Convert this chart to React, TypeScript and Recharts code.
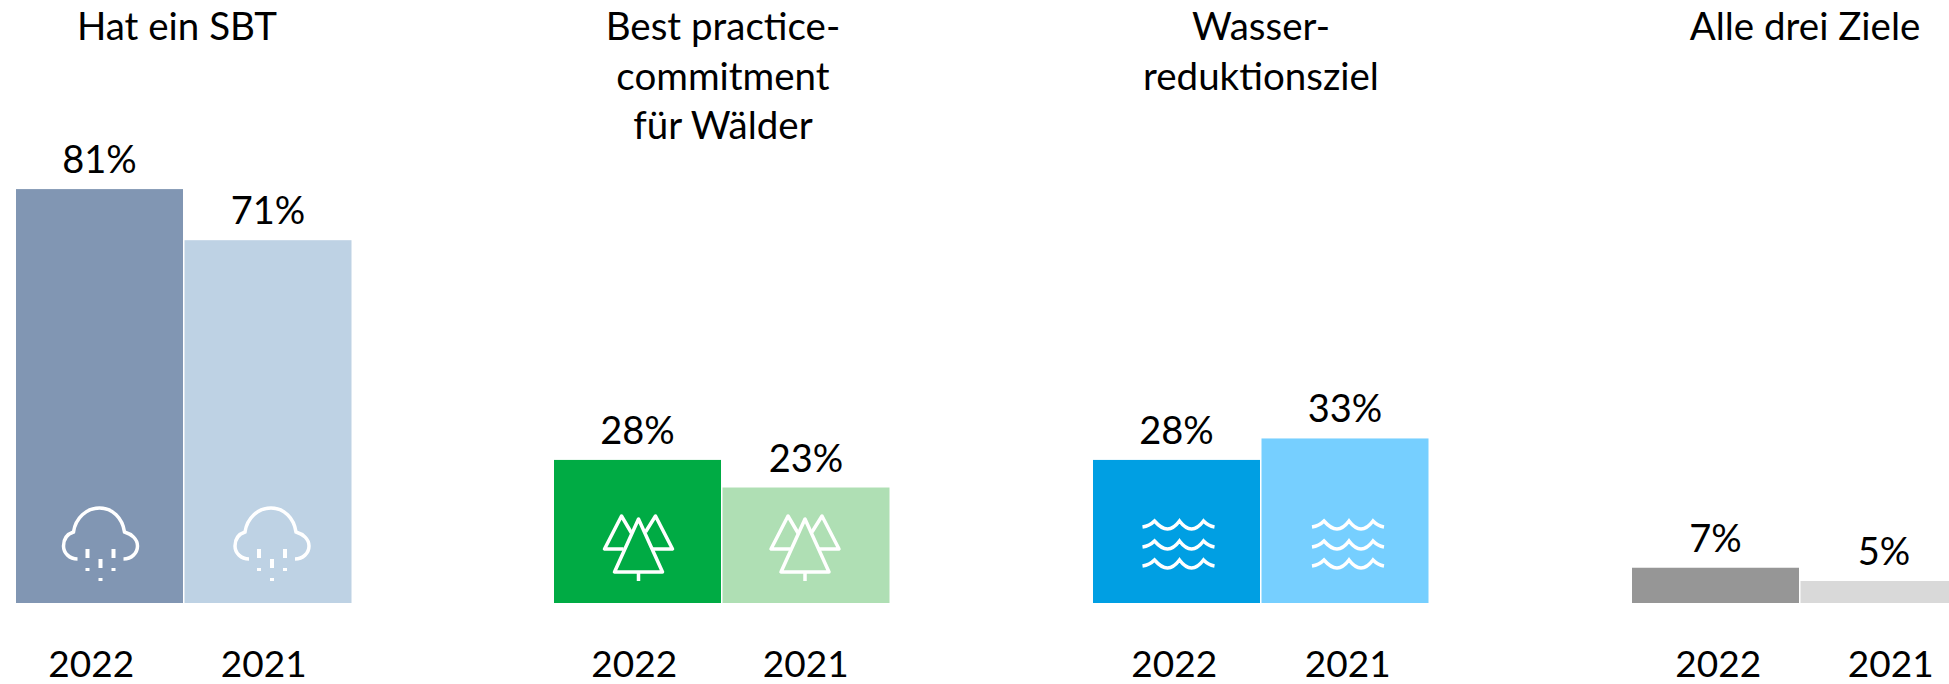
import { BarChart, Bar, XAxis, YAxis, LabelList } from "recharts"

const years = ["2022", "2021"]

// bar heights, the printed labels differ slightly
const sbtValues = [81, 71]
const forestValues = [28, 22.6]
const waterValues = [28, 32.2]
const allValues = [6.9, 4.3]

const sbtLabels = ["81%", "71%"]
const forestLabels = ["28%", "23%"]
const waterLabels = ["28%", "33%"]
const allLabels = ["7%", "5%"]

const FONT = "Lato, Carlito, sans-serif"
const TITLE_SIZE = 38.5
const TICK_SIZE = 37
const LABEL_SIZE = 38
const HEIGHT = 684
const BASELINE = 603
const PX_PER_PCT = 5.11

function CloudIcon() {
  return (
    <g fill="none" stroke="#fff">
      <path
        strokeWidth={3.5}
        d="M-22,-44 C-30,-44 -36,-50 -36,-57 C-36,-64 -32,-69 -26,-71 C-24,-85 -13,-95 0,-95 C13,-95 23,-85 25,-71 C32,-69 38,-64 38,-57 C38,-50 32,-44 24,-44"
      />
      <path strokeWidth={4} d="M-12,-54 V-45 M14,-54 V-45 M1,-44 V-35 M-12,-35 V-32 M14,-35 V-32 M1,-25 V-22" />
    </g>
  )
}

function TreeIcon() {
  return (
    <g fill="none" stroke="#fff" strokeWidth={3.5} strokeLinejoin="round">
      <path d="M1,-84 L-23,-31 H25 Z M1,-31 V-22" />
      <path d="M-6,-70 L-16,-87 L-33,-54 H-14" />
      <path d="M8,-71 L18,-87 L35,-54 H15" />
    </g>
  )
}

const wave = "Q-27,-77 -22,-82 Q-15,-74 -9,-74 Q-3,-74 3,-82 Q9,-74 15,-74 Q21,-74 27,-82 Q32,-77 38,-76"

function WaveIcon() {
  return (
    <g fill="none" stroke="#fff" strokeWidth={3.5}>
      <path d={`M-34,-76 ${wave}`} />
      <path d={`M-34,-76 ${wave}`} transform="translate(0,20)" />
      <path d={`M-34,-76 ${wave}`} transform="translate(0,39)" />
    </g>
  )
}

const panels = [
  { title: ["Hat ein SBT"], titleX: 177, left: 15, values: sbtValues, labels: sbtLabels, colors: ["#8196B3", "#BED2E4"], Icon: CloudIcon, iconDx: [0, 3], tickDx: [-8, -4] },
  { title: ["Best practice-", "commitment", "für Wälder"], titleX: 723, left: 553, values: forestValues, labels: forestLabels, colors: ["#00AB44", "#AFDFB4"], Icon: TreeIcon, iconDx: [0, -2], tickDx: [-3, 0] },
  { title: ["Wasser-", "reduktionsziel"], titleX: 1261, left: 1092, values: waterValues, labels: waterLabels, colors: ["#009FE3", "#76CFFF"], Icon: WaveIcon, iconDx: [0, 1], tickDx: [-2, 3] },
  { title: ["Alle drei Ziele"], titleX: 1805, left: 1631, values: allValues, labels: allLabels, colors: ["#969696", "#D9D9D9"], Icon: null, iconDx: [0, 0], tickDx: [3, 7] },
]

function Panel({ panel }: { panel: (typeof panels)[number] }) {
  const data = years.map((year, i) => ({ year, value: panel.values[i], label: panel.labels[i] }))
  const Icon = panel.Icon

  const renderBar = (props: any) => {
    const { x, y, width, height, index } = props
    return (
      <g>
        <rect x={x} y={y} width={width} height={height} fill={panel.colors[index]} />
        {Icon && (
          <g transform={`translate(${x + width / 2 + panel.iconDx[index]},${y + height})`}>
            <Icon />
          </g>
        )}
      </g>
    )
  }

  const renderTick = (props: any) => {
    const { x, y, payload, index } = props
    return (
      <text x={x + panel.tickDx[index]} y={y} textAnchor="middle" fontFamily={FONT} fontSize={TICK_SIZE} fill="#000">
        {payload.value}
      </text>
    )
  }

  return (
    <div style={{ position: "absolute", left: panel.left, top: 0 }}>
      <BarChart
        width={337}
        height={HEIGHT}
        data={data}
        margin={{ top: BASELINE - 100 * PX_PER_PCT, right: 0, bottom: 0, left: 0 }}
        barCategoryGap={1}
      >
        <XAxis
          dataKey="year"
          height={HEIGHT - BASELINE}
          axisLine={false}
          tickLine={false}
          interval={0}
          padding={{ left: 0, right: 0 }}
          tick={renderTick}
          tickMargin={68}
        />
        <YAxis hide domain={[0, 100]} />
        <Bar dataKey="value" isAnimationActive={false} shape={renderBar}>
          <LabelList dataKey="label" position="top" offset={16} fontFamily={FONT} fontSize={LABEL_SIZE} fill="#000" />
        </Bar>
      </BarChart>
    </div>
  )
}

export default function App() {
  return (
    <div style={{ position: "absolute", left: 0, top: 0, width: 1949, height: HEIGHT, overflow: "hidden", background: "#fff" }}>
      {panels.map((panel) => (
        <Panel key={panel.title[0]} panel={panel} />
      ))}
      {panels.map((panel) => (
        <div
          key={panel.title[0] + "-title"}
          style={{
            position: "absolute",
            left: panel.titleX - 200,
            top: 1,
            width: 400,
            textAlign: "center",
            fontFamily: FONT,
            fontSize: TITLE_SIZE,
            lineHeight: "49.5px",
            color: "#000",
          }}
        >
          {panel.title.map((line) => (
            <div key={line}>{line}</div>
          ))}
        </div>
      ))}
    </div>
  )
}
